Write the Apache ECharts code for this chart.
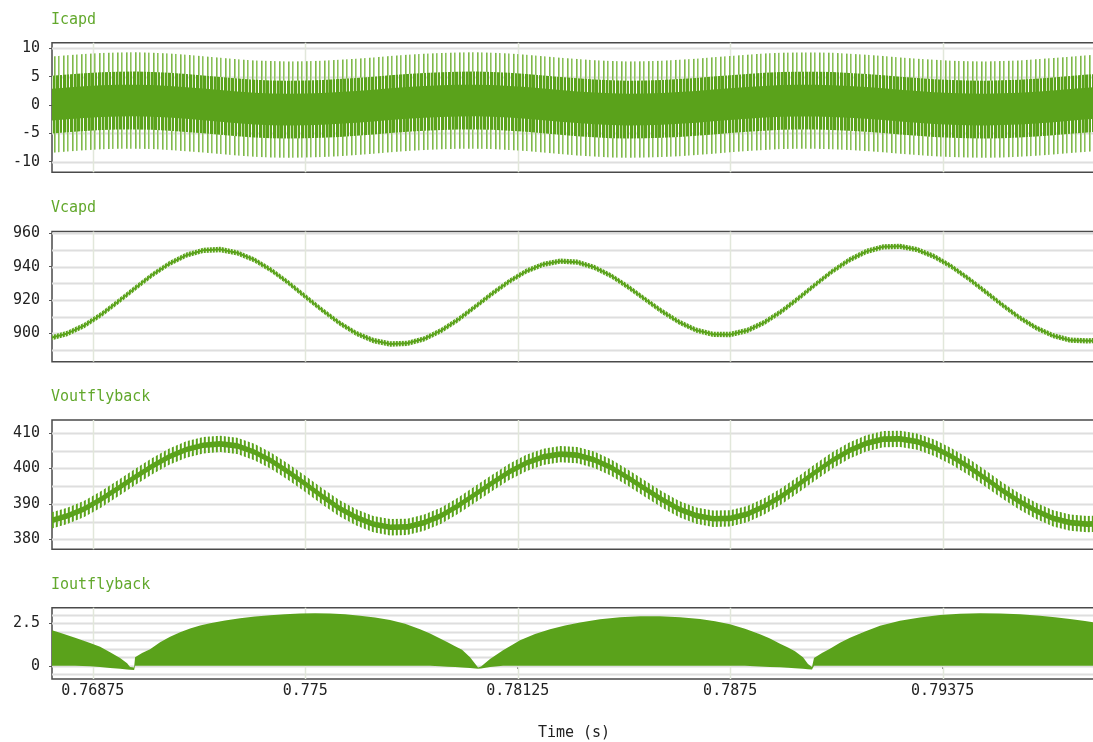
<!DOCTYPE html>
<html>
<head>
<meta charset="utf-8">
<script src="https://cdn.jsdelivr.net/npm/echarts@6/dist/echarts.min.js"></script>
<style>
  html, body { margin: 0; padding: 0; background: #ffffff; }
  #chart { width: 1093px; height: 742px; }
</style>
</head>
<body>
<div id="chart"></div>
<script>
// ---- Time base (s) ----
const xMin = 0.76755;
const xMax = 0.79826;
const xTicks = [0.76875, 0.775, 0.78125, 0.7875, 0.79375];
const xTickLabels = ['0.76875', '0.775', '0.78125', '0.7875', '0.79375'];

// Shared sample instants for the slowly varying traces
const sampleTime = [
  0.7675, 0.768, 0.7685, 0.769, 0.7695, 0.77, 0.7705, 0.771, 0.7715, 0.772,
  0.7725, 0.773, 0.7735, 0.774, 0.7745, 0.775, 0.7755, 0.776, 0.7765, 0.777,
  0.7775, 0.778, 0.7785, 0.779, 0.7795, 0.78, 0.7805, 0.781, 0.7815, 0.782,
  0.7825, 0.783, 0.7835, 0.784, 0.7845, 0.785, 0.7855, 0.786, 0.7865, 0.787,
  0.7875, 0.788, 0.7885, 0.789, 0.7895, 0.79, 0.7905, 0.791, 0.7915, 0.792,
  0.7925, 0.793, 0.7935, 0.794, 0.7945, 0.795, 0.7955, 0.796, 0.7965, 0.797,
  0.7975, 0.798, 0.7985
];

// ---- Icapd (A): local mean of the switching current and ripple half-widths ----
const icapdMean = [
  0.05, 0.30, 0.51, 0.68, 0.78, 0.80, 0.73, 0.58, 0.36, 0.11,
  -0.16, -0.41, -0.62, -0.75, -0.80, -0.77, -0.67, -0.52, -0.32, -0.09,
  0.15, 0.37, 0.56, 0.70, 0.78, 0.80, 0.73, 0.58, 0.37, 0.12,
  -0.14, -0.39, -0.60, -0.74, -0.80, -0.78, -0.68, -0.52, -0.32, -0.08,
  0.16, 0.39, 0.58, 0.72, 0.79, 0.79, 0.71, 0.57, 0.38, 0.15,
  -0.09, -0.33, -0.53, -0.69, -0.78, -0.80, -0.74, -0.62, -0.44, -0.22,
  0.03, 0.27, 0.48
];
const icapdPeakHalf = 8.5;
const icapdMidHalf = 5.1;
const icapdCoreHalf = 2.8;
const icapdTicks = [10, 5, 0, -5, -10];
const icapdGrid = [10, 5, 0, -5, -10];

// ---- Vcapd (V) ----
const vcapdMean = [
  897.2, 899.9, 904.7, 911.3, 919.1, 927.2, 935.1, 941.8, 946.9, 949.8,
  950.3, 948.3, 944.1, 937.9, 930.4, 922.1, 913.9, 906.3, 900.0, 895.7,
  893.6, 894.0, 896.7, 901.7, 908.3, 916.0, 923.9, 931.2, 937.3, 941.4,
  943.3, 942.7, 939.6, 934.5, 927.8, 920.4, 913.1, 906.7, 901.9, 899.4,
  899.3, 901.7, 906.5, 913.1, 920.9, 929.2, 937.2, 944.0, 949.1, 951.9,
  952.2, 950.2, 946.1, 940.2, 933.0, 925.1, 917.1, 909.6, 903.3, 898.6,
  895.9, 895.5, 895.8
];
const vcapdRippleHalf = 1.6;
const vcapdCoreHalf = 0.6;
const vcapdTicks = [960, 940, 920, 900];
const vcapdGrid = [960, 950, 940, 930, 920, 910, 900, 890];

// ---- Voutflyback (V) ----
const voutMean = [
  385.2, 386.6, 388.6, 391.3, 394.4, 397.6, 400.6, 403.3, 405.3, 406.5,
  406.9, 406.3, 404.6, 402.1, 399.0, 395.6, 392.1, 388.8, 386.2, 384.3,
  383.4, 383.5, 384.7, 386.7, 389.5, 392.7, 395.9, 399.0, 401.5, 403.2,
  404.0, 403.7, 402.4, 400.2, 397.3, 394.2, 391.2, 388.5, 386.7, 385.8,
  385.9, 387.1, 389.3, 392.1, 395.4, 398.9, 402.2, 405.0, 407.0, 408.2,
  408.3, 407.5, 405.8, 403.4, 400.5, 397.2, 393.8, 390.7, 388.0, 385.9,
  384.7, 384.3, 384.5
];
const voutRippleHalf = 2.3;
const voutCoreHalf = 0.8;
const voutTicks = [410, 400, 390, 380];
const voutGrid = [410, 405, 400, 395, 390, 385, 380];

// ---- Ioutflyback (A): pulse envelope, top and bottom ----
const ioutTime = [
  0.767376, 0.767788, 0.768229, 0.768671, 0.768965, 0.769259, 0.769553, 0.769759, 0.769847, 0.769965,
  0.769994, 0.7702, 0.770435, 0.770729, 0.771024, 0.771318, 0.771612, 0.771906, 0.7722, 0.772641,
  0.773082, 0.773524, 0.773965, 0.774406, 0.774847, 0.775288, 0.775729, 0.776171, 0.776612, 0.777053,
  0.777494, 0.777935, 0.778376, 0.778671, 0.778965, 0.7792, 0.779406, 0.779612, 0.779847, 0.780082,
  0.780171, 0.780435, 0.780818, 0.781082, 0.781318, 0.781759, 0.7822, 0.782641, 0.783082, 0.783671,
  0.784259, 0.784847, 0.785435, 0.786024, 0.786612, 0.787053, 0.787494, 0.787935, 0.788376, 0.78867,
  0.788965, 0.7892, 0.789406, 0.789641, 0.789788, 0.789906, 0.789965, 0.7902, 0.790435, 0.790729,
  0.791024, 0.791465, 0.791906, 0.792494, 0.793082, 0.793671, 0.794259, 0.794847, 0.795435, 0.796024,
  0.796612, 0.797053, 0.797494, 0.797935, 0.798288
];
const ioutHigh = [
  2.20, 1.95, 1.65, 1.34, 1.12, 0.80, 0.45, 0.15, -0.08, -0.10,
  0.50, 0.75, 0.97, 1.38, 1.71, 1.98, 2.20, 2.37, 2.50, 2.67,
  2.80, 2.90, 2.98, 3.04, 3.08, 3.09, 3.08, 3.03, 2.95, 2.84,
  2.70, 2.47, 2.15, 1.90, 1.60, 1.37, 1.15, 0.95, 0.50, -0.10,
  -0.05, 0.40, 0.92, 1.22, 1.50, 1.87, 2.15, 2.37, 2.55, 2.74,
  2.86, 2.92, 2.92, 2.86, 2.75, 2.62, 2.45, 2.18, 1.85, 1.60,
  1.30, 1.08, 0.85, 0.50, 0.10, -0.08, 0.45, 0.75, 1.00, 1.35,
  1.65, 2.02, 2.35, 2.65, 2.85, 2.99, 3.07, 3.10, 3.08, 3.03,
  2.95, 2.86, 2.75, 2.63, 2.53
];
const ioutLow = [
  0, 0, 0, -0.03, -0.08, -0.13, -0.18, -0.22, -0.24, -0.25,
  0, 0, 0, 0, 0, 0, 0, 0, 0, 0,
  0, 0, 0, 0, 0, 0, 0, 0, 0, 0,
  0, 0, 0, 0, -0.03, -0.06, -0.08, -0.10, -0.13, -0.17,
  -0.16, -0.08, 0, 0, 0, 0, 0, 0, 0, 0,
  0, 0, 0, 0, 0, 0, 0, 0, -0.04, -0.07,
  -0.09, -0.12, -0.14, -0.17, -0.20, -0.22, 0, 0, 0, 0,
  0, 0, 0, 0, 0, 0, 0, 0, 0, 0,
  0, 0, 0, 0, 0
];
const ioutTicks = [2.5, 0];
const ioutGrid = [3, 2.5, 2, 1.5, 1, 0.5, 0, -0.5];

const panelTitles = ['Icapd', 'Vcapd', 'Voutflyback', 'Ioutflyback'];

// ---- Styling ----
const GREEN = '#5aa21b';
const TITLE_GREEN = '#62a82c';
const MONO = "'DejaVu Sans Mono', 'Liberation Mono', monospace";

function stripePattern(cols) {
  const c = document.createElement('canvas');
  c.width = cols.length;
  c.height = 4;
  const ctx = c.getContext('2d');
  cols.forEach((col, i) => {
    if (col) { ctx.fillStyle = col; ctx.fillRect(i, 0, 1, 4); }
  });
  return { type: 'pattern', image: c, repeat: 'repeat' };
}
const icOuterFill = stripePattern(['#7fb74b', '#b0d58e', null, null, '#8bc15b', '#bcdc9e', null, null, null]);
const icMidFill = stripePattern([GREEN, GREEN, GREEN, '#cfe5b9', GREEN, GREEN, null]);
const voutFill = stripePattern([GREEN, '#78b544', null, '#e0efd2']);
const vcapFill = stripePattern([GREEN, '#7cb748', '#d5e9c2']);

// panel geometry: [top, height, yMin, yMax]
const layout = [
  [42.7, 129.6, -11.87, 11.0],
  [231.5, 130.2, 883.0, 961.1],
  [420.0, 129.3, 377.2, 413.6],
  [607.7, 71.3, -0.78, 3.42]
];

function offsetBy(arr, d) { return arr.map(v => v + d); }

// filled band between two envelopes, drawn as one polygon through the axes
function band(gi, times, lows, highs, fill, z) {
  return {
    type: 'custom', xAxisIndex: gi, yAxisIndex: gi, z: z, silent: true, clip: true,
    animation: false,
    data: times.map((t, i) => [t, lows[i], highs[i]]),
    encode: { x: 0, y: [1, 2] },
    renderItem(params, api) {
      if (params.dataIndex !== 0) return null;
      const up = times.map((t, i) => api.coord([t, highs[i]]));
      const dn = times.map((t, i) => api.coord([t, lows[i]])).reverse();
      return { type: 'polygon', shape: { points: up.concat(dn) }, style: { fill: fill, stroke: null } };
    }
  };
}

function hLines(gi, values, color, width) {
  return {
    type: 'custom', xAxisIndex: gi, yAxisIndex: gi, z: 1, silent: true, animation: false,
    data: values.map(v => [xMin, v]),
    encode: { x: 0, y: 1 },
    renderItem(params, api) {
      const cs = params.coordSys;
      const y = Math.round(api.coord([xMin, api.value(1)])[1]) + 0.5;
      return { type: 'line', shape: { x1: cs.x, y1: y, x2: cs.x + cs.width, y2: y },
        style: { stroke: color, lineWidth: width } };
    }
  };
}

function vLines(gi, values, color, width, yRef) {
  return {
    type: 'custom', xAxisIndex: gi, yAxisIndex: gi, z: 1, silent: true, animation: false,
    data: values.map(v => [v, yRef]),
    encode: { x: 0, y: 1 },
    renderItem(params, api) {
      const cs = params.coordSys;
      const x = Math.round(api.coord([api.value(0), yRef])[0]) + 0.5;
      return { type: 'line', shape: { x1: x, y1: cs.y, x2: x, y2: cs.y + cs.height },
        style: { stroke: color, lineWidth: width } };
    }
  };
}

const yTicks = [icapdTicks, vcapdTicks, voutTicks, ioutTicks];
const yGrids = [icapdGrid, vcapdGrid, voutGrid, ioutGrid];

const grids = layout.map(([top, height]) => ({
  left: 52, top: top, width: 1044, height: height,
  show: true, borderColor: '#4a4a4a', borderWidth: 1.5, backgroundColor: 'transparent',
  containLabel: false, outerBoundsMode: 'none'
}));

const xAxes = layout.map((_, i) => {
  const last = i === layout.length - 1;
  return {
    gridIndex: i, type: 'value', min: xMin, max: xMax,
    axisLine: { show: false },
    splitLine: { show: false },
    axisTick: { show: last, customValues: xTicks, length: 3, lineStyle: { color: '#555' } },
    axisLabel: {
      show: last, customValues: xTicks, margin: 5,
      fontFamily: MONO, fontSize: 15, color: '#222',
      formatter: v => {
        const k = xTicks.indexOf(v);
        return k >= 0 ? xTickLabels[k] : String(v);
      }
    },
    name: last ? 'Time (s)' : '',
    nameLocation: 'middle', nameGap: 47,
    nameTextStyle: { fontFamily: MONO, fontSize: 15, color: '#222' }
  };
});

const yAxes = layout.map(([, , yMin, yMax], i) => ({
  gridIndex: i, type: 'value', min: yMin, max: yMax,
  axisLine: { show: false },
  splitLine: { show: false },
  axisTick: { show: true, customValues: yTicks[i], length: 3, lineStyle: { color: '#555' } },
  axisLabel: {
    customValues: yTicks[i], margin: 12,
    fontFamily: MONO, fontSize: 15, color: '#222',
    formatter: v => String(v)
  }
}));

const series = [];
layout.forEach(([, , yMin], i) => {
  series.push(hLines(i, yGrids[i], '#dedede', 2));
  series.push(vLines(i, xTicks, '#e1e7da', 1.5, yMin));
});

// Icapd: outer pulses, denser mid region, solid core
series.push(band(0, sampleTime, offsetBy(icapdMean, -icapdPeakHalf), offsetBy(icapdMean, icapdPeakHalf), icOuterFill, 2));
series.push(band(0, sampleTime, offsetBy(icapdMean, -icapdMidHalf), offsetBy(icapdMean, icapdMidHalf), icMidFill, 3));
series.push(band(0, sampleTime, offsetBy(icapdMean, -icapdCoreHalf), offsetBy(icapdMean, icapdCoreHalf), GREEN, 4));

// Vcapd
series.push(band(1, sampleTime, offsetBy(vcapdMean, -vcapdRippleHalf), offsetBy(vcapdMean, vcapdRippleHalf), vcapFill, 2));
series.push(band(1, sampleTime, offsetBy(vcapdMean, -vcapdCoreHalf), offsetBy(vcapdMean, vcapdCoreHalf), GREEN, 3));

// Voutflyback
series.push(band(2, sampleTime, offsetBy(voutMean, -voutRippleHalf), offsetBy(voutMean, voutRippleHalf), voutFill, 2));
series.push(band(2, sampleTime, offsetBy(voutMean, -voutCoreHalf), offsetBy(voutMean, voutCoreHalf), GREEN, 3));

// Ioutflyback
series.push(band(3, ioutTime, ioutLow, ioutHigh, GREEN, 2));

const titleCenters = [20.3, 208.5, 397, 585];
const titles = panelTitles.map((t, i) => ({
  text: t, left: 51, top: titleCenters[i] - 9, padding: 0,
  textStyle: { fontFamily: MONO, fontSize: 15, fontWeight: 'normal', color: TITLE_GREEN, lineHeight: 18 }
}));

const chart = echarts.init(document.getElementById('chart'), null, { renderer: 'canvas' });
chart.setOption({
  animation: false,
  backgroundColor: '#ffffff',
  title: titles,
  grid: grids,
  xAxis: xAxes,
  yAxis: yAxes,
  series: series
});
</script>
</body>
</html>
